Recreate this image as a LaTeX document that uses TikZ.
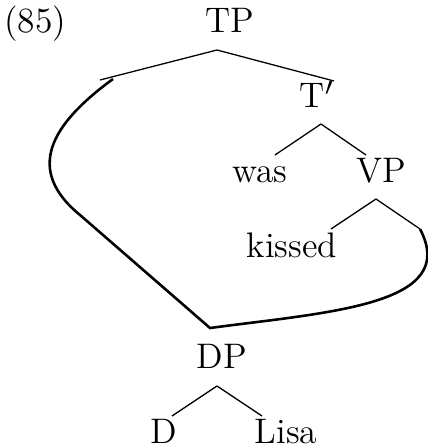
\documentclass[tikz,border=0pt]{standalone}
\usepackage{tikz}
\usetikzlibrary{positioning}

\begin{document}
\begin{tikzpicture}[
  x=0.31pt, y=-0.31pt,
  wordnode/.style={anchor=base, inner sep=0pt, font=\fontsize{11pt}{13pt}\selectfont},
  branch/.style={line width=0.4pt},
  movearc/.style={line width=0.8pt, line join=miter}
]
\useasboundingbox (0,0) rectangle (428,446);
\node[wordnode] (ex) at (35,33) {(85)};
\node[wordnode] (tp) at (230,33) {TP};
\node[wordnode] (tbar) at (317,108) {T$'$};
\node[wordnode] (was) at (260,183) {was};
\node[wordnode] (vp) at (381,183) {VP};
\node[wordnode] (kissed) at (292,257) {kissed};
\node[wordnode] (dp) at (222,368) {DP};
\node[wordnode] (d) at (164,443) {D};
\node[wordnode] (lisa) at (286,443) {Lisa};
\coordinate (tp-b) at (217,50);
\coordinate (spec) at (100,80);
\coordinate (tbar-t) at (334,81);
\coordinate (tbar-b) at (321,124);
\coordinate (was-t) at (275,155);
\coordinate (vp-t) at (366,155);
\coordinate (vp-b) at (376,199);
\coordinate (kissed-t) at (331,229);
\coordinate (obj) at (420,229);
\coordinate (dp-b) at (217,386);
\coordinate (d-t) at (172,416);
\coordinate (lisa-t) at (262,416);
\coordinate (land) at (113,79);
\coordinate (dp-t) at (210,328);
\draw[branch] (tp-b) -- (spec);
\draw[branch] (tp-b) -- (tbar-t);
\draw[branch] (tbar-b) -- (was-t);
\draw[branch] (tbar-b) -- (vp-t);
\draw[branch] (vp-b) -- (kissed-t);
\draw[branch] (vp-b) -- (obj);
\draw[branch] (dp-b) -- (d-t);
\draw[branch] (dp-b) -- (lisa-t);
\draw[movearc] (land) .. controls (50,125) and (25,170) .. (80,215) -- (dp-t)
  .. controls (330,312) and (460,305) .. (obj);
\end{tikzpicture}
\end{document}
